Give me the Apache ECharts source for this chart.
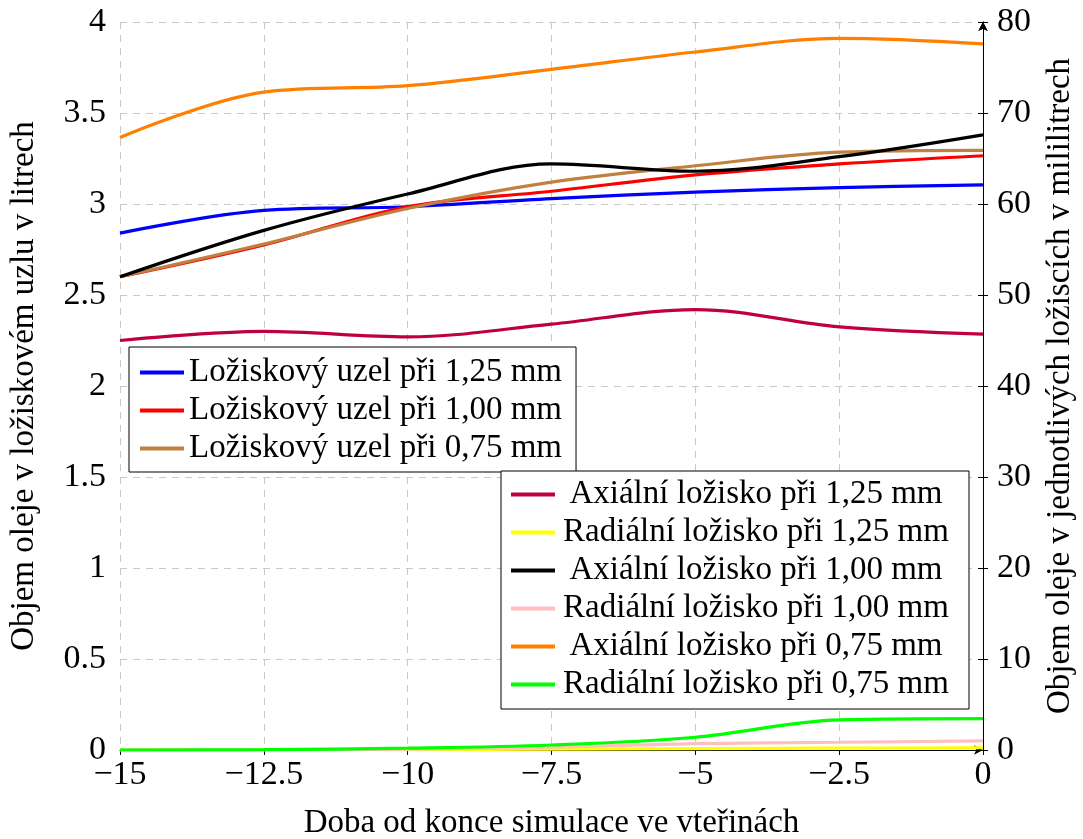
<!DOCTYPE html>
<html>
<head>
<meta charset="utf-8">
<script src="https://cdn.jsdelivr.net/npm/echarts@6/dist/echarts.min.js"></script>
<style>
  html, body { margin: 0; padding: 0; background: #fff; }
  #chart { width: 1083px; height: 839px; }
</style>
</head>
<body>
<div id="chart"></div>
<script>
// cas od konce simulace [s]
var times = [-15, -12.5, -10, -7.5, -5, -2.5, 0];

// loziskovy uzel [l] - leva osa
var uzel125 = [2.84, 2.965, 2.985, 3.03, 3.065, 3.09, 3.105];
var uzel100 = [2.6, 2.775, 2.985, 3.07, 3.16, 3.22, 3.265];
var uzel075 = [2.6, 2.78, 2.975, 3.12, 3.21, 3.285, 3.295];

// jednotliva loziska [ml] - prava osa
var axial125 = [45.0, 46.0, 45.4, 46.8, 48.4, 46.5, 45.7];
var radial125 = [0, 0, 0.05, 0.1, 0.15, 0.2, 0.25];
var axial100 = [52.0, 57.1, 61.1, 64.4, 63.6, 65.2, 67.6];
var radial100 = [0, 0, 0.1, 0.3, 0.7, 0.85, 1.0];
var axial075 = [67.3, 72.3, 73.0, 74.8, 76.7, 78.2, 77.6];
var radial075 = [0, 0.05, 0.2, 0.55, 1.4, 3.3, 3.45];

var font = 'Liberation Serif';

function pairs(arr) {
    return times.map(function (t, i) { return [t, arr[i]]; });
}

function line(name, data, color, yIdx) {
    return {
        name: name,
        type: 'line',
        yAxisIndex: yIdx,
        data: pairs(data),
        smooth: 0.35,
        symbol: 'none',
        color: color,
        lineStyle: { color: color, width: 3.2 },
        animation: false
    };
}

var legendCommon = {
    orient: 'vertical',
    icon: 'rect',
    itemWidth: 44,
    itemHeight: 4,
    itemGap: 5,
    backgroundColor: '#fff',
    borderColor: '#000',
    borderWidth: 1,
    borderRadius: 0,
    z: 10
};

var option = {
    backgroundColor: '#fff',
    textStyle: { fontFamily: font },
    grid: { left: 120, right: 100, top: 22, bottom: 89, containLabel: false, outerBoundsMode: 'none' },
    legend: [
        Object.assign({}, legendCommon, {
            left: 129, top: 347,
            padding: [9, 14, 7, 11],
            data: ['Ložiskový uzel při 1,25 mm', 'Ložiskový uzel při 1,00 mm', 'Ložiskový uzel při 0,75 mm'],
            textStyle: { fontFamily: font, fontSize: 33, color: '#000', lineHeight: 33 }
        }),
        Object.assign({}, legendCommon, {
            left: 501, top: 471,
            padding: [7, 17, 8, 10],
            data: ['Axiální ložisko při 1,25 mm', 'Radiální ložisko při 1,25 mm',
                   'Axiální ložisko při 1,00 mm', 'Radiální ložisko při 1,00 mm',
                   'Axiální ložisko při 0,75 mm', 'Radiální ložisko při 0,75 mm'],
            formatter: '{c|{name}}',
            textStyle: {
                fontFamily: font, fontSize: 33, color: '#000', lineHeight: 33,
                rich: { c: { width: 392, align: 'center', fontFamily: font, fontSize: 33, lineHeight: 33 } }
            }
        })
    ],
    xAxis: {
        type: 'value',
        min: -15, max: 0, interval: 2.5,
        name: 'Doba od konce simulace ve vteřinách',
        nameLocation: 'middle',
        nameGap: 57,
        nameTextStyle: { fontFamily: font, fontSize: 33, color: '#000' },
        axisLine: { onZero: false, symbol: ['none', 'arrow'], symbolSize: [7, 9], lineStyle: { color: '#000', width: 1 } },
        axisTick: { inside: false, length: 5, lineStyle: { color: '#000' } },
        axisLabel: {
            fontFamily: font, fontSize: 34, color: '#000', margin: 8,
            formatter: function (v) { return v < 0 ? '\u2212' + (-v) : String(v); }
        },
        splitLine: { show: true, lineStyle: { color: '#c8c8c8', type: [7, 6], width: 1 } }
    },
    yAxis: [
        {
            type: 'value',
            position: 'left',
            min: 0, max: 4, interval: 0.5,
            name: 'Objem oleje v ložiskovém uzlu v litrech',
            nameLocation: 'middle',
            nameGap: 79,
            nameTextStyle: { fontFamily: font, fontSize: 33, color: '#000' },
            axisLine: { show: true, symbol: ['none', 'arrow'], symbolSize: [7, 9], lineStyle: { color: '#000', width: 1 } },
            axisTick: { show: true, length: 5, lineStyle: { color: '#000' } },
            axisLabel: { fontFamily: font, fontSize: 34, color: '#000', margin: 14 },
            splitLine: { show: true, lineStyle: { color: '#c8c8c8', type: [7, 6], width: 1 } }
        },
        {
            type: 'value',
            position: 'right',
            min: 0, max: 80, interval: 10,
            name: 'Objem oleje v jednotlivých ložiscích v mililitrech',
            nameLocation: 'middle',
            nameGap: 61,
            nameTextStyle: { fontFamily: font, fontSize: 33, color: '#000' },
            axisLine: { show: true, symbol: ['none', 'arrow'], symbolSize: [7, 9], lineStyle: { color: '#000', width: 1 } },
            axisTick: { show: true, length: 5, lineStyle: { color: '#000' } },
            axisLabel: { fontFamily: font, fontSize: 34, color: '#000', margin: 14 },
            splitLine: { show: false }
        }
    ],
    series: [
        line('Ložiskový uzel při 1,25 mm', uzel125, '#0000ff', 0),
        line('Ložiskový uzel při 1,00 mm', uzel100, '#ff0000', 0),
        line('Ložiskový uzel při 0,75 mm', uzel075, '#bf8040', 0),
        line('Axiální ložisko při 1,25 mm', axial125, '#bf0040', 1),
        line('Radiální ložisko při 1,25 mm', radial125, '#ffff00', 1),
        line('Axiální ložisko při 1,00 mm', axial100, '#000000', 1),
        line('Radiální ložisko při 1,00 mm', radial100, '#ffbfbf', 1),
        line('Axiální ložisko při 0,75 mm', axial075, '#ff8000', 1),
        line('Radiální ložisko při 0,75 mm', radial075, '#00ff00', 1)
    ]
};

var myChart = echarts.init(document.getElementById('chart'));
myChart.setOption(option);
</script>
</body>
</html>
